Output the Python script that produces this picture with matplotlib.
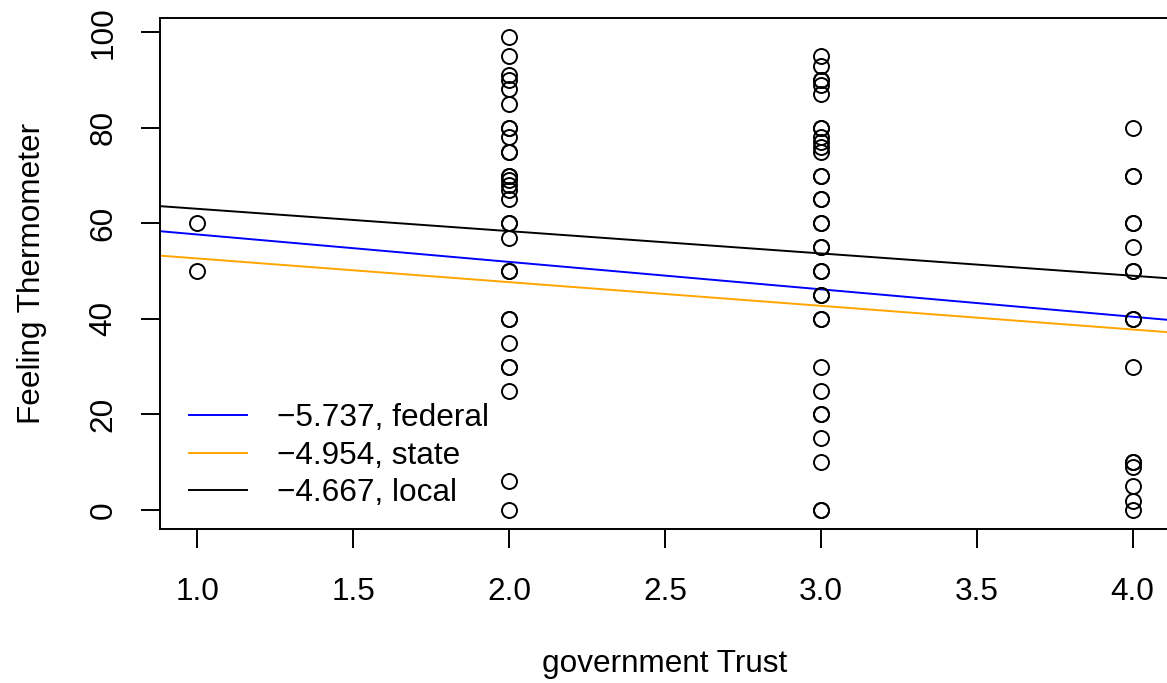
import matplotlib
matplotlib.use("Agg")
import matplotlib.pyplot as plt
import numpy as np

plt.rcParams['font.family'] = ['Liberation Sans', 'DejaVu Sans']

# trust level and thermometer scores
trust_1 = [60, 50]
trust_2 = [99, 95, 91, 90, 88, 85, 80, 80, 78, 75, 75, 70, 70, 69, 68, 67, 65,
           60, 60, 57, 50, 50, 40, 40, 35, 30, 30, 25, 6, 0]
trust_3 = [95, 93, 90, 90, 89, 87, 80, 80, 78, 77, 76, 75, 70, 70, 65, 65, 60, 60,
           55, 55, 50, 50, 45, 45, 40, 40, 30, 25, 20, 20, 15, 10, 0, 0]
trust_4 = [80, 70, 70, 60, 60, 55, 50, 50, 40, 40, 30, 10, 10, 9, 5, 2, 0]

# fitted lines: intercept, slope
fit_names = ['federal', 'state', 'local']
fit_colors = ['blue', 'orange', 'black']
intercepts = [63.4, 57.6, 67.7]
slopes = [-5.737, -4.954, -4.667]

x = np.concatenate([np.full(len(v), k) for k, v in
                    zip([1, 2, 3, 4], [trust_1, trust_2, trust_3, trust_4])])
y = np.concatenate([trust_1, trust_2, trust_3, trust_4])

fs = 22.7
W, H = 1167, 683
fig = plt.figure(figsize=(W / 100, H / 100), dpi=100)
ax = fig.add_axes([160 / W, 1 - 529 / H, 1010 / W, 511 / H])

ax.plot(x, y, 'o', ms=10.8, mfc='none', mec='black', mew=1.4, zorder=3)

xx = np.array([0.5, 4.5])
handles = []
for name, col, a, b in zip(fit_names, fit_colors, intercepts, slopes):
    h, = ax.plot(xx, a + b * xx, color=col, lw=1.4,
                 label='\u2212%.3f, %s' % (-b, name))
    handles.append(h)

ax.set_xlim(0.88, 4.12)
ax.set_ylim(-3.96, 102.96)
ax.set_xticks([1.0, 1.5, 2.0, 2.5, 3.0, 3.5, 4.0])
ax.set_xticklabels(['1.0', '1.5', '2.0', '2.5', '3.0', '3.5', '4.0'])
ax.set_yticks([0, 20, 40, 60, 80, 100])
ax.set_yticklabels(['0', '20', '40', '60', '80', '100'], rotation=90, va='center')

for s in ax.spines.values():
    s.set_linewidth(1.4)
ax.tick_params(length=13.7, width=1.4, labelsize=fs, direction='out')
ax.tick_params(axis='x', pad=21)
ax.tick_params(axis='y', pad=16)

ax.set_xlabel('government Trust', fontsize=fs, labelpad=30)
ax.set_ylabel('Feeling Thermometer', fontsize=fs, labelpad=30)

leg = ax.legend(handles=handles, loc='upper left', frameon=False, fontsize=fs,
                bbox_to_anchor=(189 / W, 1 - 403 / H), bbox_transform=fig.transFigure,
                borderpad=0, borderaxespad=0, handlelength=1.84, handletextpad=0.95,
                labelspacing=0.24)

fig.savefig('out.png', dpi=100)
